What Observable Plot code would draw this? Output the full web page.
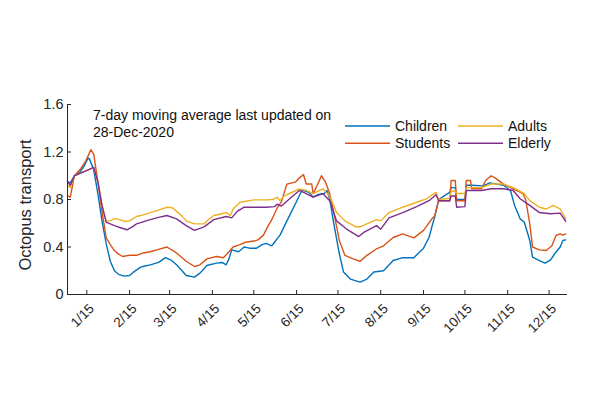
<!DOCTYPE html>
<html><head><meta charset="utf-8">
<script src="https://cdn.jsdelivr.net/npm/d3@7"></script>
<script src="https://cdn.jsdelivr.net/npm/@observablehq/plot@0.6"></script>
<style>
body{margin:0;background:#fff;}
#chart{width:600px;height:400px;}
</style></head><body><div id="chart"></div>
<script>
const seriesNames = ["Children","Students","Adults","Elderly"];
const seriesColors = ["#0072BD","#D95319","#EDB120","#7E2F8E"];
const legendOrder = ["Children","Students","Adults","Elderly"];
const noteLines = ["7-day moving average last updated on","28-Dec-2020"];
const yLabel = "Octopus transport";
const yTicks = [0,0.4,0.8,1.2,1.6];
const yTickLabels = ["0","0.4","0.8","1.2","1.6"];
const xTickMonths = [1,2,3,4,5,6,7,8,9,10,11,12];
const xTickLabels = ["1/15","2/15","3/15","4/15","5/15","6/15","7/15","8/15","9/15","10/15","11/15","12/15"];

// [day of 2020 (0 = 1 Jan), value]
const children = [[0,0.95],[2,0.94],[5,1.00],[9,1.03],[12,1.08],[15,1.15],[16,1.14],[19,1.05],[22,0.85],[25,0.62],[28,0.43],[31,0.28],[34,0.20],[37,0.17],[41,0.155],[45,0.16],[48,0.19],[53,0.23],[56,0.24],[60,0.25],[66,0.27],[71,0.31],[75,0.29],[79,0.25],[83,0.20],[86,0.16],[92,0.146],[96,0.18],[101,0.244],[108,0.264],[112,0.27],[115,0.25],[117,0.30],[119,0.376],[124,0.36],[128,0.40],[132,0.39],[137,0.39],[141,0.42],[144,0.43],[148,0.41],[150,0.44],[152,0.47],[154,0.50],[159,0.62],[165,0.76],[170,0.88],[175,0.86],[178,0.82],[181,0.84],[186,0.85],[188,0.876],[190,0.806],[193,0.595],[197,0.343],[200,0.19],[205,0.13],[212,0.104],[217,0.13],[222,0.19],[229,0.20],[236,0.286],[243,0.31],[251,0.31],[258,0.39],[262,0.48],[264,0.567],[266,0.65],[269,0.80],[273,0.83],[277,0.86],[278,0.90],[281,0.90],[282,0.80],[288,0.80],[289,0.92],[293,0.92],[301,0.915],[306,0.94],[316,0.92],[321,0.876],[324,0.75],[328,0.637],[331,0.61],[335,0.455],[337,0.314],[342,0.286],[346,0.264],[350,0.29],[353,0.343],[357,0.40],[359,0.455],[361,0.46]];
const students = [[0,0.83],[2,0.82],[5,1.00],[9,1.05],[13,1.12],[17,1.22],[19,1.18],[22,0.95],[25,0.70],[28,0.48],[31,0.42],[34,0.37],[37,0.34],[40,0.32],[45,0.33],[50,0.33],[55,0.35],[60,0.36],[66,0.38],[72,0.40],[79,0.35],[86,0.28],[92,0.236],[96,0.25],[101,0.30],[108,0.32],[113,0.31],[117,0.36],[120,0.40],[125,0.42],[129,0.44],[135,0.45],[138,0.46],[142,0.50],[145,0.57],[148,0.63],[152,0.73],[155,0.78],[159,0.93],[165,0.946],[168,0.98],[171,1.01],[173,0.93],[177,0.93],[178,0.85],[181,0.92],[184,1.00],[187,0.946],[190,0.85],[193,0.69],[197,0.455],[201,0.33],[207,0.30],[212,0.28],[214,0.30],[217,0.33],[224,0.385],[229,0.41],[236,0.48],[243,0.51],[251,0.477],[258,0.54],[264,0.637],[266,0.66],[269,0.79],[277,0.79],[278,0.96],[281,0.96],[282,0.79],[288,0.79],[289,0.96],[292,0.96],[293,0.89],[300,0.89],[303,0.96],[307,1.00],[310,0.98],[316,0.93],[323,0.89],[330,0.85],[332,0.80],[335,0.595],[337,0.40],[342,0.376],[347,0.37],[351,0.41],[354,0.497],[357,0.51],[359,0.50],[361,0.51]];
const adults = [[0,0.92],[2,0.90],[5,1.00],[9,1.02],[15,1.05],[19,1.07],[22,0.95],[25,0.75],[28,0.62],[31,0.62],[34,0.64],[38,0.63],[42,0.615],[45,0.62],[50,0.657],[55,0.67],[60,0.69],[66,0.71],[72,0.735],[76,0.73],[79,0.70],[83,0.66],[86,0.62],[92,0.595],[99,0.595],[102,0.63],[106,0.665],[112,0.68],[115,0.69],[118,0.665],[120,0.72],[125,0.777],[135,0.797],[144,0.797],[149,0.80],[152,0.82],[154,0.79],[156,0.82],[159,0.84],[168,0.89],[173,0.876],[178,0.85],[185,0.89],[190,0.83],[195,0.69],[201,0.62],[209,0.57],[212,0.57],[216,0.59],[222,0.62],[224,0.63],[227,0.62],[233,0.69],[243,0.735],[253,0.777],[260,0.806],[267,0.86],[269,0.80],[277,0.81],[278,0.87],[281,0.87],[282,0.85],[288,0.85],[289,0.90],[293,0.90],[300,0.90],[307,0.93],[316,0.93],[323,0.90],[331,0.85],[335,0.79],[342,0.735],[347,0.72],[352,0.75],[357,0.72],[361,0.64]];
const elderly = [[0,0.95],[2,0.92],[5,1.00],[9,1.02],[15,1.05],[19,1.07],[22,0.95],[25,0.75],[28,0.61],[31,0.595],[34,0.58],[39,0.56],[43,0.545],[47,0.57],[50,0.595],[60,0.63],[66,0.65],[72,0.665],[79,0.637],[86,0.58],[92,0.54],[99,0.57],[106,0.63],[115,0.657],[119,0.645],[123,0.70],[128,0.735],[144,0.735],[150,0.74],[152,0.76],[155,0.745],[161,0.806],[168,0.876],[173,0.85],[178,0.82],[185,0.85],[190,0.79],[195,0.62],[202,0.553],[211,0.488],[215,0.525],[224,0.58],[227,0.55],[233,0.645],[243,0.69],[253,0.74],[262,0.79],[267,0.84],[269,0.79],[277,0.79],[278,0.83],[281,0.83],[282,0.735],[288,0.74],[289,0.876],[300,0.876],[307,0.89],[316,0.89],[323,0.876],[328,0.806],[335,0.75],[342,0.69],[350,0.68],[357,0.685],[361,0.617]];

const seriesData = [children, students, adults, elderly];
const start = new Date(Date.UTC(2020,0,1));
const end = new Date(Date.UTC(2020,11,28,8));
const rows = [];
seriesNames.forEach((name,i) => seriesData[i].forEach(([d,v]) => rows.push({date: d3.utcDay.offset(start, d), value: v, series: name})));
const xTicks = xTickMonths.map(m => new Date(Date.UTC(2020, m-1, 15)));

const FONT = "'Liberation Sans', Arial, Helvetica, sans-serif";
const INK = "#262626";
const W = 600, H = 400, mL = 67, mR = 33, mT = 104, mB = 106;

const plot = Plot.plot({
  width: W, height: H,
  marginLeft: mL, marginRight: mR, marginTop: mT, marginBottom: mB,
  style: {fontFamily: FONT, fontSize: "14px", color: INK, background: "white", overflow: "visible"},
  x: {type: "utc", domain: [start, end], axis: null},
  y: {domain: [0, 1.6], axis: null},
  color: {domain: seriesNames, range: seriesColors},
  marks: [
    Plot.line(rows, {x: "date", y: "value", z: "series", stroke: "series", strokeWidth: 1.4}),
    Plot.ruleY([0], {stroke: INK, strokeWidth: 1}),
    Plot.ruleX([start], {stroke: INK, strokeWidth: 1}),
    Plot.tickX(xTicks, {x: d => d, insetTop: (H - mT - mB) - 4, stroke: INK}),
    Plot.tickY(yTicks, {y: d => d, insetRight: (W - mL - mR) - 4, stroke: INK}),
    Plot.text(yTicks, {y: d => d, frameAnchor: "left", text: (d, i) => yTickLabels[i], textAnchor: "end", dx: -4, fontSize: 14.5, fill: INK}),
    Plot.text(xTicks, {x: d => d, frameAnchor: "bottom", text: (d, i) => xTickLabels[i], rotate: -45, textAnchor: "end", dx: 8, dy: 15, fontSize: 13.5, fill: INK})
  ]
});
document.getElementById("chart").appendChild(plot);

const svg = d3.select(plot);
// y label
svg.append("text")
  .attr("transform", `translate(31,205) rotate(-90)`)
  .attr("text-anchor", "middle")
  .attr("font-family", FONT).attr("font-size", 16.5).attr("fill", INK)
  .text(yLabel);
// note
noteLines.forEach((t, i) => {
  svg.append("text").attr("x", 93).attr("y", 115 + i * 16.7)
    .attr("text-anchor", "start")
    .attr("dy", "0.35em").attr("font-family", FONT).attr("font-size", 14).attr("fill", "#111")
    .text(t);
});
// legend
legendOrder.forEach((name, k) => {
  const col = Math.floor(k / 2), row = k % 2;
  const x0 = col === 0 ? 345 : 458, y0 = 126 + row * 17.3;
  const c = seriesColors[seriesNames.indexOf(name)];
  const g = svg.append("g");
  g.append("line").attr("x1", x0).attr("x2", x0 + 45).attr("y1", y0).attr("y2", y0).attr("stroke", c).attr("stroke-width", 1.5);
  g.append("text").attr("x", x0 + 50).attr("y", y0).attr("dy", "0.35em").attr("text-anchor", "start")
    .attr("font-family", FONT).attr("font-size", 14).attr("fill", "#111").text(name);
});
</script>
</body></html>
